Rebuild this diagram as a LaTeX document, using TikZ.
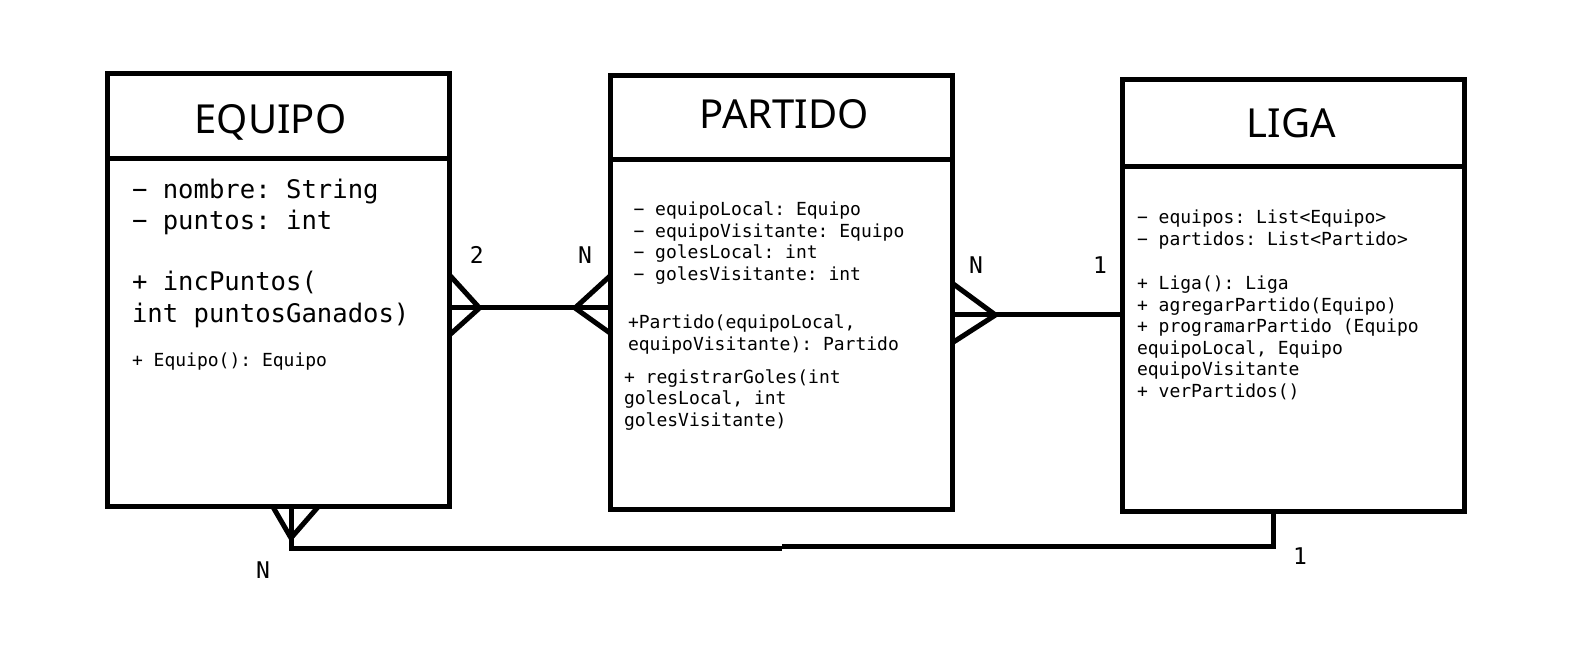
\documentclass[tikz,border=0pt]{standalone}
\usepackage{fontspec}
\setmainfont{Noto Sans}
\setmonofont{DejaVu Sans Mono}
\usetikzlibrary{positioning}

\begin{document}
\begin{tikzpicture}[x=0.5pt, y=-0.5pt, line width=2.5pt,
    head/.style={draw, outer sep=0pt, inner sep=0pt, minimum width=171pt},
    body/.style={draw, outer sep=0pt, inner sep=0pt, minimum width=171pt},
    title/.style={inner sep=0pt, font=\fontsize{20}{24}\selectfont,
        text height=14.3pt, text depth=0pt},
    big/.style={inner sep=0pt, anchor=base west, align=left,
        font=\ttfamily\fontsize{12.8}{15.85}\selectfont},
    small/.style={inner sep=0pt, anchor=base west, align=left,
        font=\ttfamily\fontsize{9}{10.75}\selectfont},
    card/.style={inner sep=0pt, font=\ttfamily\fontsize{11.5}{12}\selectfont}]
\useasboundingbox (0,0) rectangle (1590,651);

% EQUIPO (text nodes are placed at the baseline of their last line)
\node[head, anchor=north west, minimum height=42.5pt] (equipo) at (107.5,74) {};
\node[title] (equipoTitle) at ([xshift=-4pt, yshift=-1.25pt]equipo.center) {EQUIPO};
\node[body, below=0pt of equipo, minimum height=174pt] (equipoBody) {};
\node[big] (equipoAttr) at (129.5,230) {− nombre: String\\− puntos: int};
\node[big] (equipoInc) at (129.5,322.7) {+ incPuntos(\\int puntosGanados)};
\node[small] (equipoNew) at (129.5,366.7) {+ Equipo(): Equipo};

% PARTIDO
\node[head, anchor=north west, minimum height=42pt] (partido) at (610,75.5) {};
\node[title] (partidoTitle) at ([xshift=1.6pt, yshift=1.75pt]partido.center) {PARTIDO};
\node[body, below=0pt of partido, minimum height=175pt] (partidoBody) {};
\node[small] (partidoAttr) at (631,280.5) {− equipoLocal: Equipo\\− equipoVisitante: Equipo\\− golesLocal: int\\− golesVisitante: int};
\node[small] (partidoNew) at (625.5,350.5) {+Partido(equipoLocal,\\equipoVisitante): Partido};
\node[small] (partidoGoles) at (621.5,426.5) {+ registrarGoles(int\\golesLocal, int\\golesVisitante)};

% LIGA
\node[head, anchor=north west, minimum height=43.5pt] (liga) at (1122,80) {};
\node[title] (ligaTitle) at ([xshift=-0.8pt]liga.center) {LIGA};
\node[body, below=0pt of liga, minimum height=172.5pt] (ligaBody) {};
\node[small] (ligaAttr) at (1134.5,245.5) {− equipos: List<Equipo>\\− partidos: List<Partido>};
\node[small] (ligaOps) at (1134.5,397.5) {+ Liga(): Liga\\+ agregarPartido(Equipo)\\+ programarPartido (Equipo\\equipoLocal, Equipo\\equipoVisitante\\+ verPartidos()};

% relaciones
\coordinate (eqR) at (equipoBody.east |- 0,308);
\coordinate (paL) at (partidoBody.west |- 0,308);
\coordinate (paR) at (partidoBody.east |- 0,315);
\coordinate (liL) at (ligaBody.west |- 0,315);
\coordinate (eqB) at (equipoBody.south -| 291,0);
\coordinate (liB) at (ligaBody.south -| 1273,0);
\coordinate (stepL) at (782,548.5);
\coordinate (stepR) at (782,546.5);

\draw (eqR) -- (paL);
\draw (eqR) ++(0,-33) -- ++(30,33) -- ++(-30,27);
\draw (paL) ++(0,-32) -- ++(-35,32) -- ++(35,25);
\node[card] (eqCard) at (476.7,255) {2};
\node[card] (paCard) at (585,255) {N};

\draw (paR) -- (liL);
\draw (paR) ++(0,-32) -- ++(43.5,32) -- ++(-43.5,28);
\node[card] (paCard2) at (976,265) {N};
\node[card] (liCard) at (1100,265) {1};

\draw (eqB) |- (stepL);
\draw (stepR) -| (liB);
\draw (eqB) ++(-18,0) -- ++(18,31) -- ++(27,-31);
\node[card] (eqCard2) at (263,570) {N};
\node[card] (liCard2) at (1300,556) {1};
\end{tikzpicture}
\end{document}
